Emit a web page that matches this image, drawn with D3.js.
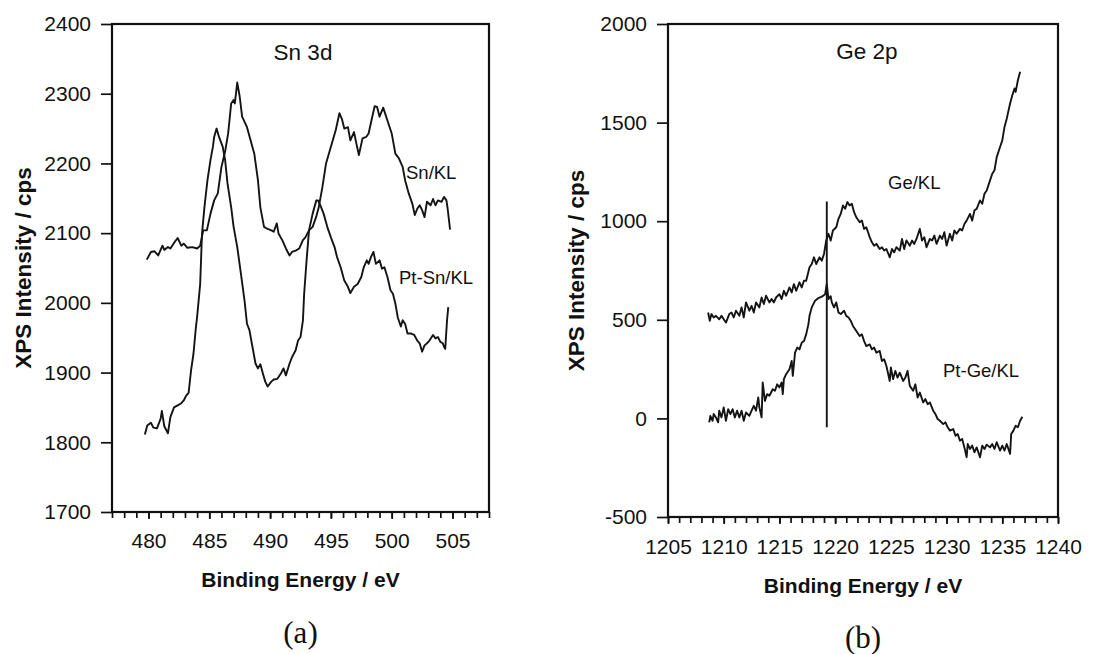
<!DOCTYPE html>
<html><head><meta charset="utf-8">
<script src="https://cdn.jsdelivr.net/npm/d3@7"></script>
<style>
body{margin:0;background:#fff}
svg{display:block}
text{font-family:"Liberation Sans",Arial,Helvetica,sans-serif;fill:#111}
</style>
</head><body>
<svg id="c" width="1112" height="654"></svg>
<script>
// ---------- DATA ----------
const snKL = [[479.86,2062],[480.2,2073],[480.5,2074],[480.8,2068],[481.15,2082],[481.3,2076],[481.6,2080],[481.8,2078],[482.1,2086],[482.4,2093],[482.7,2082],[482.9,2085],[483.2,2079],[483.6,2080],[484.0,2078],[484.25,2082],[484.5,2104],[484.8,2104],[485.1,2128],[485.4,2147],[485.7,2157],[486.0,2195],[486.3,2217],[486.55,2243],[486.8,2286],[487.0,2291],[487.1,2286],[487.3,2316],[487.5,2296],[487.7,2267],[488.1,2252],[488.4,2233],[488.7,2214],[489.0,2176],[489.2,2137],[489.5,2109],[489.8,2106],[490.1,2104],[490.3,2102],[490.55,2114],[490.7,2099],[491.0,2090],[491.3,2078],[491.6,2068],[491.8,2073],[492.1,2075],[492.4,2078],[492.7,2090],[492.9,2094],[493.2,2104],[493.5,2109],[493.8,2124],[494.0,2137],[494.3,2166],[494.6,2200],[495.0,2224],[495.4,2248],[495.7,2272],[495.9,2264],[496.1,2250],[496.4,2252],[496.6,2233],[496.9,2245],[497.1,2228],[497.3,2212],[497.6,2236],[497.9,2238],[498.1,2243],[498.4,2267],[498.6,2282],[498.8,2281],[499.0,2267],[499.3,2280],[499.6,2264],[500.0,2243],[500.3,2214],[500.6,2207],[500.9,2195],[501.1,2176],[501.4,2157],[501.7,2142],[501.9,2126],[502.1,2135],[502.3,2140],[502.5,2133],[502.7,2123],[502.9,2145],[503.2,2140],[503.4,2149],[503.6,2140],[503.8,2147],[504.1,2145],[504.3,2152],[504.5,2147],[504.6,2135],[504.8,2105]];

const ptSnKL = [[479.7,1811],[479.9,1824],[480.2,1828],[480.4,1821],[480.7,1820],[481.0,1834],[481.1,1845],[481.3,1823],[481.6,1813],[481.8,1836],[482.1,1850],[482.4,1853],[482.7,1856],[482.9,1860],[483.1,1867],[483.3,1871],[483.5,1903],[483.7,1927],[483.9,1965],[484.0,1980],[484.25,2027],[484.4,2099],[484.6,2137],[484.85,2176],[485.1,2205],[485.3,2224],[485.4,2238],[485.6,2250],[485.8,2238],[486.1,2224],[486.3,2205],[486.5,2171],[486.8,2137],[487.0,2109],[487.3,2080],[487.6,2042],[487.9,2003],[488.1,1970],[488.3,1961],[488.6,1932],[488.8,1913],[489.0,1906],[489.2,1912],[489.4,1899],[489.6,1887],[489.8,1880],[490.1,1887],[490.3,1890],[490.6,1891],[490.9,1899],[491.1,1906],[491.3,1896],[491.6,1913],[491.8,1922],[492.1,1932],[492.3,1946],[492.5,1951],[492.7,1975],[492.8,2013],[493.0,2061],[493.2,2104],[493.5,2128],[493.8,2147],[493.95,2147],[494.2,2137],[494.4,2128],[494.7,2109],[495.0,2094],[495.3,2080],[495.5,2066],[495.8,2051],[496.1,2032],[496.4,2023],[496.6,2014],[496.9,2023],[497.2,2027],[497.5,2037],[497.7,2051],[497.95,2061],[498.1,2056],[498.3,2066],[498.5,2073],[498.7,2056],[499.0,2061],[499.2,2049],[499.4,2051],[499.65,2037],[499.9,2018],[500.1,2013],[500.3,1999],[500.5,1979],[500.75,1966],[500.9,1975],[501.1,1970],[501.3,1956],[501.6,1956],[501.85,1954],[502.1,1946],[502.3,1942],[502.5,1930],[502.7,1939],[502.9,1942],[503.1,1946],[503.4,1954],[503.6,1949],[503.8,1951],[504.0,1944],[504.2,1942],[504.3,1937],[504.4,1934],[504.55,1975],[504.65,1994]];

const geKL = [[1208.6,537],[1208.75,495],[1208.9,529],[1209.1,512],[1209.3,520],[1209.6,503],[1209.8,520],[1210.0,503],[1210.2,486],[1210.5,529],[1210.7,537],[1210.9,512],[1211.1,546],[1211.4,520],[1211.6,563],[1211.8,512],[1212.0,588],[1212.3,546],[1212.5,571],[1212.7,537],[1212.9,588],[1213.2,563],[1213.4,613],[1213.6,580],[1213.8,622],[1214.1,588],[1214.3,605],[1214.5,588],[1214.7,613],[1215.0,630],[1215.2,605],[1215.4,647],[1215.6,622],[1215.9,664],[1216.1,639],[1216.3,681],[1216.5,647],[1216.8,690],[1217.0,664],[1217.2,698],[1217.4,698],[1217.7,766],[1217.9,783],[1218.1,817],[1218.3,783],[1218.6,817],[1218.8,800],[1219.0,834],[1219.2,902],[1219.4,936],[1219.6,902],[1219.8,953],[1220.1,969],[1220.3,1012],[1220.5,1037],[1220.7,1080],[1220.9,1063],[1221.1,1097],[1221.3,1080],[1221.5,1088],[1221.7,1046],[1221.9,1020],[1222.2,995],[1222.4,1003],[1222.6,961],[1222.8,969],[1223.1,919],[1223.3,893],[1223.5,876],[1223.7,885],[1224.0,859],[1224.2,868],[1224.4,851],[1224.6,859],[1224.9,817],[1225.1,859],[1225.3,842],[1225.5,868],[1225.8,851],[1226.0,910],[1226.2,859],[1226.4,902],[1226.7,876],[1226.9,902],[1227.1,885],[1227.3,910],[1227.6,961],[1227.8,902],[1228.0,919],[1228.2,868],[1228.5,910],[1228.7,902],[1228.9,927],[1229.1,885],[1229.4,927],[1229.6,910],[1229.8,944],[1230.0,876],[1230.3,936],[1230.5,902],[1230.7,953],[1230.9,936],[1231.2,961],[1231.4,953],[1231.6,986],[1231.8,1003],[1232.1,1037],[1232.3,1003],[1232.5,1054],[1232.7,1063],[1233.0,1105],[1233.2,1088],[1233.4,1139],[1233.6,1156],[1233.9,1207],[1234.1,1241],[1234.3,1258],[1234.5,1325],[1234.8,1376],[1235.0,1410],[1235.2,1478],[1235.4,1520],[1235.7,1597],[1235.9,1639],[1236.1,1673],[1236.2,1656],[1236.4,1715],[1236.6,1758]];

const ptGeKL = [[1208.7,-20],[1208.8,13],[1209.0,-12],[1209.1,22],[1209.3,5],[1209.5,-20],[1209.6,39],[1209.8,5],[1210.0,56],[1210.2,-12],[1210.4,47],[1210.6,22],[1210.8,47],[1211.0,5],[1211.2,39],[1211.4,5],[1211.6,39],[1211.8,-12],[1212.0,30],[1212.3,13],[1212.5,39],[1212.7,64],[1212.9,39],[1213.1,106],[1213.2,56],[1213.4,5],[1213.5,182],[1213.7,89],[1213.9,123],[1214.1,115],[1214.4,148],[1214.6,140],[1214.8,173],[1215.0,157],[1215.2,182],[1215.3,123],[1215.4,199],[1215.6,224],[1215.9,249],[1216.1,291],[1216.2,216],[1216.4,333],[1216.6,359],[1216.8,350],[1217.0,384],[1217.2,392],[1217.4,426],[1217.6,477],[1217.7,520],[1217.9,563],[1218.2,597],[1218.5,610],[1218.8,617],[1219.1,630],[1219.25,681],[1219.4,605],[1219.6,620],[1219.7,588],[1219.9,563],[1220.1,588],[1220.3,537],[1220.5,529],[1220.8,546],[1221.0,520],[1221.2,512],[1221.4,495],[1221.6,469],[1221.9,443],[1222.2,418],[1222.4,426],[1222.6,392],[1222.8,367],[1223.1,375],[1223.3,350],[1223.5,359],[1223.7,333],[1224.0,342],[1224.2,291],[1224.4,300],[1224.6,266],[1224.9,190],[1225.0,258],[1225.2,199],[1225.4,241],[1225.6,207],[1225.8,232],[1226.1,190],[1226.3,207],[1226.5,241],[1226.7,165],[1227.0,140],[1227.2,173],[1227.4,106],[1227.6,131],[1227.9,81],[1228.1,98],[1228.3,72],[1228.5,81],[1228.8,39],[1229.0,22],[1229.2,-3],[1229.4,-12],[1229.7,-29],[1229.9,-20],[1230.1,-45],[1230.3,-62],[1230.6,-54],[1230.8,-88],[1231.0,-79],[1231.2,-113],[1231.4,-104],[1231.6,-147],[1231.8,-197],[1231.9,-130],[1232.1,-155],[1232.3,-138],[1232.5,-172],[1232.7,-147],[1233.0,-197],[1233.2,-138],[1233.4,-155],[1233.6,-133],[1233.9,-147],[1234.1,-130],[1234.3,-155],[1234.5,-121],[1234.8,-163],[1235.0,-138],[1235.2,-163],[1235.4,-130],[1235.7,-180],[1235.8,-79],[1236.0,-62],[1236.2,-37],[1236.4,-45],[1236.6,-12],[1236.8,8]];

const geMarker = [[1219.25,-45],[1219.25,1100]];

const snXDomain = [477, 508];
const snYDomain = [1700, 2400];
const snXTicks = [480, 485, 490, 495, 500, 505];
const snYTicks = [1700, 1800, 1900, 2000, 2100, 2200, 2300, 2400];
const geXDomain = [1205, 1240];
const geYDomain = [-500, 2000];
const geXTicks = [1205, 1210, 1215, 1220, 1225, 1230, 1235, 1240];
const geYTicks = [-500, 0, 500, 1000, 1500, 2000];

const xTitle = "Binding Energy / eV";
const yTitle = "XPS Intensity / cps";

// ---------- DRAW ----------
const svg = d3.select("#c");
const ink = "#111";
const plain = d => String(d);

function panel(cfg) {
  const g = svg.append("g");
  const x = d3.scaleLinear().domain(cfg.xDomain).range([cfg.left, cfg.right]);
  const y = d3.scaleLinear().domain(cfg.yDomain).range([cfg.bottom, cfg.top]);

  // minor x ticks
  g.append("g").attr("transform", `translate(0,${cfg.bottom})`)
    .call(d3.axisBottom(x).tickValues(d3.range(cfg.xDomain[0], cfg.xDomain[1] + 1)).tickSize(6).tickFormat(""))
    .call(a => a.select(".domain").remove())
    .call(a => a.selectAll("line").attr("stroke", ink).attr("stroke-width", 1.7));
  // major x ticks
  g.append("g").attr("transform", `translate(0,${cfg.bottom})`)
    .call(d3.axisBottom(x).tickValues(cfg.xTicks).tickSize(7).tickPadding(cfg.xPad).tickFormat(plain))
    .call(a => a.select(".domain").remove())
    .call(a => a.selectAll("line").attr("stroke", ink).attr("stroke-width", 1.7))
    .call(a => a.selectAll("text").attr("font-size", "21px").attr("fill", ink)
      .style("font-family", '"Liberation Sans",Arial,sans-serif'));
  // y ticks
  g.append("g").attr("transform", `translate(${cfg.left},0)`)
    .call(d3.axisLeft(y).tickValues(cfg.yTicks).tickSize(11).tickPadding(10).tickFormat(plain))
    .call(a => a.select(".domain").remove())
    .call(a => a.selectAll("line").attr("stroke", ink).attr("stroke-width", 1.7))
    .call(a => a.selectAll("text").attr("font-size", "21px").attr("fill", ink)
      .style("font-family", '"Liberation Sans",Arial,sans-serif'));

  // frame
  g.append("rect").attr("x", cfg.left).attr("y", cfg.top)
    .attr("width", cfg.right - cfg.left).attr("height", cfg.bottom - cfg.top)
    .attr("fill", "none").attr("stroke", ink).attr("stroke-width", 2.2);

  const line = d3.line().x(d => x(d[0])).y(d => y(d[1]));
  cfg.series.forEach(s => {
    g.append("path").datum(s).attr("d", line)
      .attr("fill", "none").attr("stroke", "#141414").attr("stroke-width", 1.9)
      .attr("stroke-linejoin", "round");
  });

  // titles
  g.append("text").attr("x", (cfg.left + cfg.right) / 2).attr("y", cfg.bottom + cfg.xTitleDy)
    .attr("text-anchor", "middle").attr("font-size", "21px").attr("font-weight", "bold").text(xTitle);
  const cy = (cfg.top + cfg.bottom) / 2;
  g.append("text").attr("transform", `translate(${cfg.yTitleX},${cy}) rotate(-90)`)
    .attr("text-anchor", "middle").attr("font-size", "22.5px").attr("font-weight", "bold").text(yTitle);
  g.append("text").attr("x", cfg.head[1]).attr("y", cfg.head[2]).attr("text-anchor", "middle")
    .attr("font-size", "22.5px").text(cfg.head[0]);
  cfg.labels.forEach(l => {
    g.append("text").attr("x", l[1]).attr("y", l[2]).attr("font-size", "18.5px").text(l[0]);
  });
  g.append("text").attr("x", (cfg.left + cfg.right) / 2).attr("y", cfg.capY).attr("text-anchor", "middle")
    .attr("font-size", "31px").style("font-family", '"Liberation Serif","Times New Roman",serif').text(cfg.cap);
}

panel({
  left: 112, right: 489, top: 24, bottom: 512,
  xDomain: snXDomain, yDomain: snYDomain, xTicks: snXTicks, yTicks: snYTicks,
  xPad: 14, xTitleDy: 75, yTitleX: 31,
  series: [snKL, ptSnKL],
  head: ["Sn 3d", 303, 60],
  labels: [["Sn/KL", 406, 179], ["Pt-Sn/KL", 399, 284]],
  cap: "(a)", capY: 643
});

panel({
  left: 668, right: 1058, top: 24, bottom: 517,
  xDomain: geXDomain, yDomain: geYDomain, xTicks: geXTicks, yTicks: geYTicks,
  xPad: 15, xTitleDy: 76, yTitleX: 584,
  series: [geKL, ptGeKL, geMarker],
  head: ["Ge 2p", 867, 59],
  labels: [["Ge/KL", 888, 189], ["Pt-Ge/KL", 943, 377]],
  cap: "(b)", capY: 648
});
</script>
</body></html>
